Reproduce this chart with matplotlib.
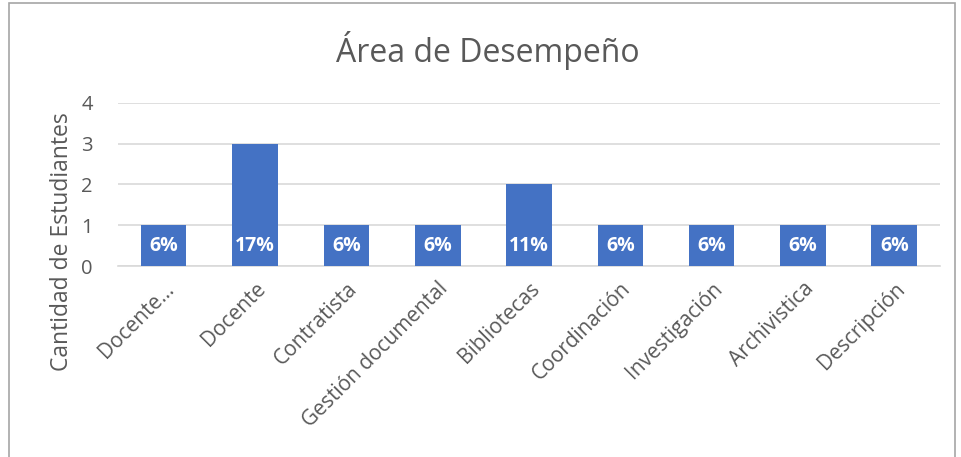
import matplotlib.pyplot as plt
from matplotlib.patches import Rectangle

categorias = ["Docente…", "Docente", "Contratista", "Gestión documental", "Bibliotecas",
              "Coordinación", "Investigación", "Archivistica", "Descripción"]
estudiantes = [1, 3, 1, 1, 2, 1, 1, 1, 1]
porcentajes = ["6%", "17%", "6%", "6%", "11%", "6%", "6%", "6%", "6%"]

plt.rcParams['font.family'] = ['Open Sans', 'DejaVu Sans']
gris = "#595959"

fig = plt.figure(figsize=(9.61, 4.57), dpi=100)
# chart border like the excel chart area
fig.patches.append(Rectangle((9 / 961, -0.05), (955 - 9) / 961, 1 - 3 / 457 + 0.05,
                             transform=fig.transFigure, fill=False,
                             edgecolor="#a6a6a6", linewidth=1.2))

ax = fig.add_axes([118 / 961, 1 - 266 / 457, (940 - 118) / 961, (266 - 103) / 457])
x = range(len(categorias))
bars = ax.bar(x, estudiantes, width=0.5, color="#4472C4", zorder=3)
for b, txt in zip(bars, porcentajes):
    ax.text(b.get_x() + b.get_width() / 2, 0.5, txt, ha="center", va="center",
            color="white", fontsize=14, fontweight="bold", zorder=4)

ax.set_xlim(-0.5, len(categorias) - 0.5)
ax.set_ylim(0, 4)
ax.set_yticks([0, 1, 2, 3, 4])
ax.yaxis.grid(True, color="#d9d9d9", linewidth=1.2, zorder=0)
for s in ["top", "right", "left"]:
    ax.spines[s].set_visible(False)
ax.spines["bottom"].set_color("#d9d9d9")
ax.spines["bottom"].set_linewidth(1.2)
ax.tick_params(axis="both", length=0, colors=gris, labelsize=14.5)
ax.tick_params(axis="y", pad=18)
ax.set_xticks(list(x))
ax.set_xticklabels(categorias, rotation=45, ha="right", rotation_mode="anchor",
                   fontsize=15)
ax.tick_params(axis="x", pad=9)

# y label is centred on the whole plot area (bars + category labels), as in excel
fig.text(62 / 961, 1 - 242 / 457, "Cantidad de Estudiantes", rotation=90,
         ha="center", va="center", color=gris, fontsize=16.5)
fig.text(488 / 961, 1 - 50 / 457, "Área de Desempeño", ha="center", va="center",
         color=gris, fontsize=23)

fig.savefig("out.png", dpi=100)
